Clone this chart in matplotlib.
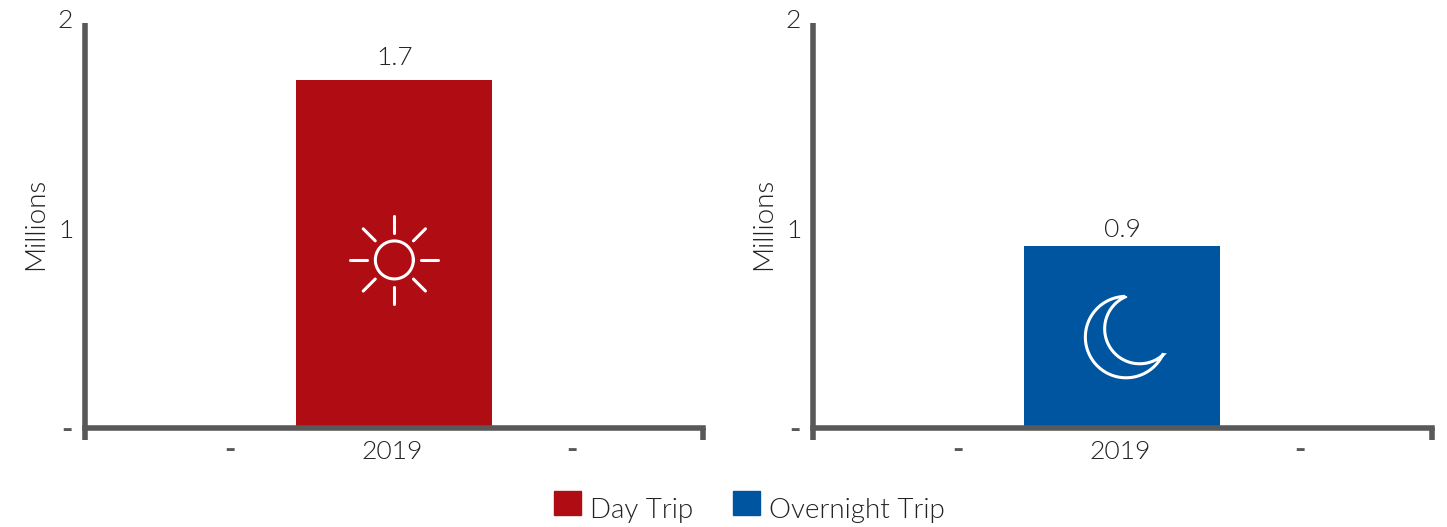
import numpy as np
import matplotlib
matplotlib.use("Agg")
import matplotlib.pyplot as plt
from matplotlib.patches import Patch, PathPatch
from matplotlib.path import Path
from matplotlib.transforms import Affine2D

# Trips per year, in millions
day_trips = [1.72]
overnight_trips = [0.9]
years = ["2019"]
y_ticks = [0, 1, 2]
y_tick_labels = ["-", "1", "2"]
empty_ticks = ["-", "-"]

RED = "#AF0C13"
BLUE = "#0055A0"
AXIS_GREY = "#595959"
TEXT = "#222222"

W, H = 1447, 527
plt.rcParams["font.family"] = ["Lato", "DejaVu Sans"]
plt.rcParams["font.size"] = 19
plt.rcParams["font.weight"] = 300

fig = plt.figure(figsize=(W / 100, H / 100), dpi=100)


def make_axes(left, right, top, bottom):
    return fig.add_axes([left / W, 1 - bottom / H, (right - left) / W, (bottom - top) / H])


def nudge(label, dx, dy):
    label.set_transform(label.get_transform() + Affine2D().translate(dx, dy))


def draw_panel(ax, values, color, label_pad):
    ax.set_xlim(-1.5, 1.5)
    ax.set_ylim(0, 2)
    bars = ax.bar([0], values, width=0.95, color=color)
    ax.bar_label(bars, labels=[f"{v:.1f}" for v in values], padding=label_pad, color=TEXT, fontsize=19)

    for side in ["top", "right"]:
        ax.spines[side].set_visible(False)
    for side in ["left", "bottom"]:
        ax.spines[side].set_linewidth(4)
        ax.spines[side].set_color(AXIS_GREY)
    ax.spines["left"].set_capstyle("butt")

    ax.set_yticks(y_ticks, y_tick_labels)
    ax.tick_params(axis="y", length=0, pad=9, labelcolor=TEXT)
    ax.set_xticks([-0.797, 0, 0.86], [empty_ticks[0], years[0], empty_ticks[1]])
    ax.tick_params(axis="x", length=0, pad=9, labelcolor=TEXT)
    ax.set_xticks([-1.5, 1.5], minor=True)
    ax.tick_params(axis="x", which="minor", length=8.6, width=4, color=AXIS_GREY)

    # the dashes stand in for empty categories and take the axis colour
    ylabels = ax.get_yticklabels()
    xlabels = ax.get_xticklabels()
    for lab in [ylabels[0], xlabels[0], xlabels[2]]:
        lab.set_color(AXIS_GREY)
        lab.set_fontweight("bold")
        lab.set_fontsize(22)
    nudge(ylabels[1], 1, -3)
    nudge(ylabels[2], 0, 5)
    nudge(xlabels[0], 0, 4)
    nudge(xlabels[2], 0, 4)
    nudge(xlabels[1], -2, 0)

    ax.set_ylabel("Millions", color=TEXT, fontsize=20, fontweight=300)
    ax.yaxis.set_label_coords(-0.06, 0.503)


def pixel_anchor(ax, x, y):
    # icon geometry is in pixels around a point given in data coordinates
    px, py = ax.transData.transform((x, y))
    return Affine2D().scale(1, -1).translate(px, py)


def draw_sun(ax, x, y):
    tr = pixel_anchor(ax, x, y)
    angle = np.linspace(0, 2 * np.pi, 121)
    ax.plot(19 * np.cos(angle), 19 * np.sin(angle), color="white", lw=2.2, transform=tr, zorder=3)
    for a in np.deg2rad(np.arange(0, 360, 45)):
        ax.plot([27 * np.cos(a), 44 * np.cos(a)], [27 * np.sin(a), 44 * np.sin(a)],
                color="white", lw=2.2, solid_capstyle="round", transform=tr, zorder=3)


def draw_moon(ax, x, y):
    tr = pixel_anchor(ax, x, y)
    outer_c, outer_r = np.array([3.7, 0.3]), 40.7
    inner_c, inner_r = np.array([17.3, -8.0]), 35.0
    tip_a = np.array([3.0, -40.3])
    tip_b = np.array([41.3, 18.0])

    a0 = np.arctan2(*(tip_a - outer_c)[::-1])
    a1 = np.arctan2(*(tip_b - outer_c)[::-1])
    outer_t = np.linspace(a0, a1 - 2 * np.pi if a1 > a0 else a1, 80)
    outer = outer_c + outer_r * np.c_[np.cos(outer_t), np.sin(outer_t)]

    b0 = np.arctan2(*(tip_b - inner_c)[::-1])
    b1 = np.arctan2(*(tip_a - inner_c)[::-1])
    inner_t = np.linspace(b0, b1 if b1 > b0 else b1 + 2 * np.pi, 80)
    inner = inner_c + inner_r * np.c_[np.cos(inner_t), np.sin(inner_t)]

    outline = Path(np.vstack([outer, inner, outer[:1]]))
    ax.add_patch(PathPatch(outline, facecolor="none", edgecolor="white", lw=2.2,
                           joinstyle="miter", transform=tr, zorder=3))


ax1 = make_axes(85.2, 703.5, 23.3, 427.8)
ax2 = make_axes(813.2, 1431.5, 23.3, 427.8)

draw_panel(ax1, day_trips, RED, 7)
draw_panel(ax2, overnight_trips, BLUE, 3)

draw_sun(ax1, 0, 0.83)
draw_moon(ax2, 0, overnight_trips[0] / 2)

handles = [Patch(color=RED, label="Day Trip"), Patch(color=BLUE, label="Overnight Trip")]
legend = fig.legend(handles=handles, loc="center", bbox_to_anchor=(749.5 / W, 1 - 504 / H), ncol=2,
                    frameon=False, fontsize=20, labelcolor=TEXT, handlelength=0.97, handleheight=0.97,
                    handletextpad=0.32, columnspacing=1.45, borderpad=0, borderaxespad=0)
for text in legend.get_texts():
    text.set_y(-5.5)

fig.savefig("out.png", dpi=100)
